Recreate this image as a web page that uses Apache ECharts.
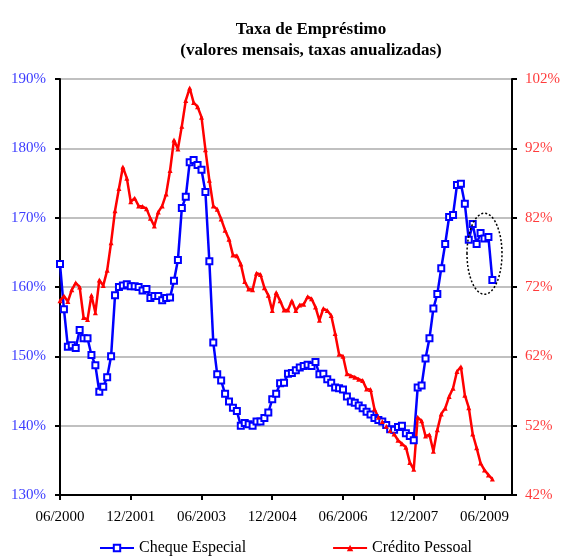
<!DOCTYPE html>
<html>
<head>
<meta charset="utf-8">
<title>Taxa de Empréstimo</title>
<script src="https://cdn.jsdelivr.net/npm/echarts@6/dist/echarts.min.js"></script>
<style>
  html, body { margin: 0; padding: 0; background: #fff; }
  #chart { width: 563px; height: 559px; }
</style>
</head>
<body>
<div id="chart"></div>
<script>
(function () {
    'use strict';

    //////////Dados (valores mensais, a partir de 06/2000)
    var startYear = 2000;
    var startMonth = 6;
    var monthCount = 116; // eixo vai até 01/2010

    var chequeEspecial = [
        163.3, 156.8, 151.4, 151.6, 151.2, 153.8, 152.6, 152.6, 150.2, 148.7,
        144.9, 145.6, 147.0, 150.0, 158.8, 160.0, 160.2, 160.4, 160.1, 160.1,
        160.0, 159.5, 159.7, 158.4, 158.7, 158.7, 158.1, 158.4, 158.5, 160.9,
        163.9, 171.4, 173.0, 178.0, 178.3, 177.6, 176.9, 173.7, 163.7, 152.0,
        147.4, 146.5, 144.6, 143.5, 142.6, 142.1, 140.0, 140.4, 140.2, 140.0,
        140.6, 140.6, 141.1, 141.9, 143.8, 144.6, 146.1, 146.2, 147.5, 147.6,
        148.0, 148.4, 148.6, 148.8, 148.6, 149.2, 147.4, 147.5, 146.7, 146.2,
        145.5, 145.4, 145.2, 144.2, 143.5, 143.3, 142.9, 142.5, 142.0, 141.6,
        141.1, 140.8, 140.6, 140.1, 139.5, 139.4, 139.8, 140.0, 138.9, 138.5,
        137.9, 145.5, 145.8, 149.7, 152.6, 156.9, 159.0, 162.7, 166.2, 170.1,
        170.4, 174.7, 174.9, 172.0, 166.8, 169.1, 166.2, 167.8, 167.0, 167.2,
        161.0
    ];

    var creditoPessoal = [
        70.0, 70.7, 69.9, 71.6, 72.6, 72.0, 67.6, 67.3, 70.8, 68.3,
        73.0, 72.2, 74.4, 78.4, 83.0, 86.2, 89.3, 87.7, 84.3, 84.8,
        83.7, 83.6, 83.3, 81.9, 80.8, 82.8, 83.7, 85.4, 88.8, 93.2,
        91.9, 95.2, 98.9, 100.7, 98.6, 98.0, 96.5, 91.8, 87.4, 83.7,
        83.2, 81.8, 80.2, 78.9, 76.6, 76.5, 75.3, 72.8, 71.7, 71.6,
        74.0, 73.8, 71.9, 70.8, 68.6, 71.2, 70.0, 68.7, 68.7, 70.0,
        68.6, 69.4, 69.5, 70.6, 70.3, 69.1, 67.2, 68.9, 68.6, 67.9,
        65.3, 62.3, 62.0, 59.5, 59.2, 59.0, 58.7, 58.5, 57.3, 57.2,
        54.4, 53.2, 52.6, 51.9, 51.3, 50.8, 49.9, 49.4, 48.9, 46.7,
        45.7, 53.2, 52.7, 50.5, 50.7, 48.3, 51.4, 53.7, 54.5, 56.2,
        57.4, 59.8, 60.5, 56.4, 54.6, 50.8, 48.8, 46.6, 45.6, 44.9,
        44.3
    ];

    //////////Categorias (mm/aaaa)
    var months = [];
    for (var i = 0; i < monthCount; i++) {
        var m = (startMonth - 1 + i) % 12 + 1;
        var y = startYear + Math.floor((startMonth - 1 + i) / 12);
        months.push((m < 10 ? '0' + m : '' + m) + '/' + y);
    }

    var serif = 'Liberation Serif';

    //////////Chart
    var chart = echarts.init(document.getElementById('chart'));
    var option = {
        backgroundColor: '#fff',
        animation: false,
        textStyle: { fontFamily: serif },
        grid: {
            left: 60,
            right: 48,
            top: 79,
            bottom: 64,
            show: true,
            borderColor: '#808080',
            borderWidth: 2
        },
        legend: {
            left: 94,
            top: 535,
            itemWidth: 34,
            itemHeight: 8,
            itemGap: 86,
            textStyle: { fontFamily: serif, fontSize: 16, color: '#000' },
            data: ['Cheque Especial', 'Crédito Pessoal']
        },
        xAxis: {
            type: 'category',
            data: months,
            boundaryGap: false,
            axisLine: { lineStyle: { color: '#000', width: 2 } },
            axisTick: { interval: 17, length: 5, lineStyle: { color: '#000', width: 2 } },
            axisLabel: { interval: 17, margin: 15, fontSize: 15, color: '#000', fontFamily: serif },
            splitLine: { show: false }
        },
        yAxis: [
            {
                type: 'value',
                min: 130,
                max: 190,
                interval: 10,
                axisLine: { show: true, lineStyle: { color: '#000', width: 2 } },
                axisTick: { show: true, length: 5, lineStyle: { color: '#000', width: 2 } },
                axisLabel: { formatter: '{value}%', margin: 14, fontSize: 15, color: '#3c3cff', fontFamily: serif },
                splitLine: { show: true, lineStyle: { color: '#c0c0c0', width: 2 } }
            },
            {
                type: 'value',
                position: 'right',
                min: 42,
                max: 102,
                interval: 10,
                axisLine: { show: true, lineStyle: { color: '#000', width: 2 } },
                axisTick: { show: true, length: 5, lineStyle: { color: '#000', width: 2 } },
                axisLabel: { formatter: '{value}%', margin: 13, fontSize: 15, color: '#ff3c3c', fontFamily: serif },
                splitLine: { show: false }
            }
        ],
        series: [
            {
                name: 'Cheque Especial',
                type: 'line',
                yAxisIndex: 0,
                data: chequeEspecial,
                symbol: 'emptyRect',
                symbolSize: 6,
                showAllSymbol: true,
                lineStyle: { color: '#0000ff', width: 2.5 },
                itemStyle: { color: '#0000ff', borderColor: '#0000ff', borderWidth: 2.5 }
            },
            {
                name: 'Crédito Pessoal',
                type: 'line',
                yAxisIndex: 1,
                data: creditoPessoal,
                symbol: 'triangle',
                symbolSize: 5,
                showAllSymbol: true,
                lineStyle: { color: '#ff0000', width: 2.5 },
                itemStyle: { color: '#ff0000' }
            }
        ]
    };
    chart.setOption(option);

    //////////Título e elipse de destaque (últimos meses)
    var c = chart.convertToPixel({ xAxisIndex: 0, yAxisIndex: 0 }, [108, 164.8]);
    chart.setOption({
        graphic: [
            {
                type: 'text',
                style: {
                    x: 311,
                    y: 19,
                    text: 'Taxa de Empréstimo\n(valores mensais, taxas anualizadas)',
                    align: 'center',
                    lineHeight: 21,
                    font: 'bold 17px "Liberation Serif"',
                    fill: '#000'
                }
            },
            {
                type: 'ellipse',
                shape: { cx: c[0], cy: c[1], rx: 17.5, ry: 40.5 },
                style: { fill: null, stroke: '#000', lineWidth: 1.5, lineDash: [2, 2] },
                z: 100
            }
        ]
    });
})();
</script>
</body>
</html>
